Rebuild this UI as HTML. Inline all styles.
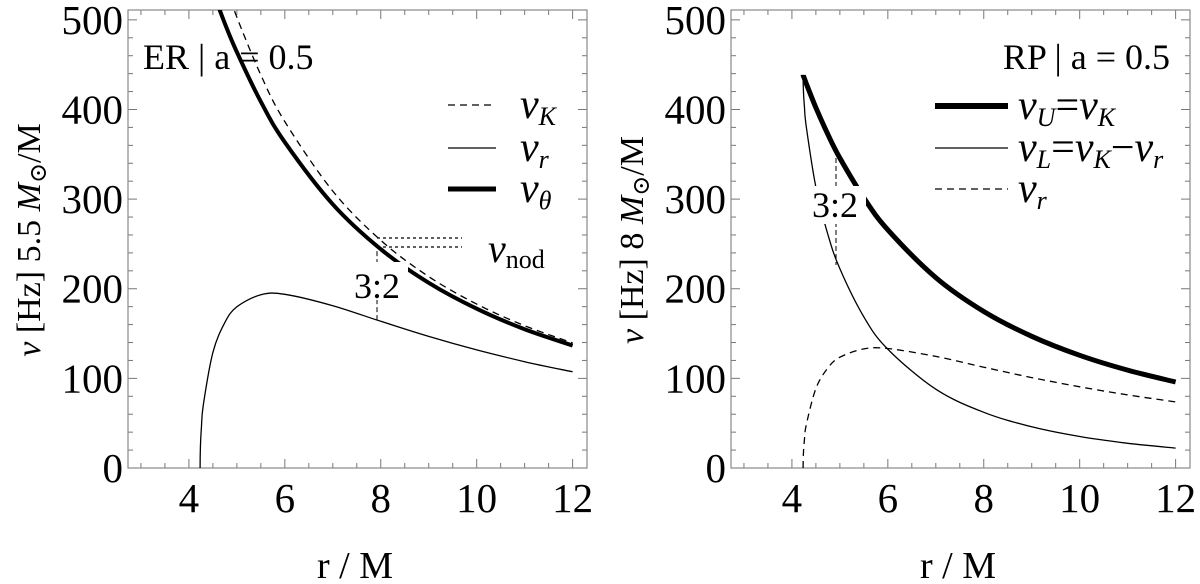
<!DOCTYPE html>
<html><head><meta charset="utf-8">
<style>
html,body{margin:0;padding:0;background:#fff;}
svg{display:block;}
svg text{font-family:"Liberation Serif","DejaVu Serif",serif;}
</style></head>
<body>
<svg id="chart" width="1200" height="584" viewBox="0 0 1200 584" xmlns="http://www.w3.org/2000/svg" font-family="Liberation Serif, serif"></svg>
<script>
// radii (r/M) sampled
const radii = [4.233,4.24,4.26,4.3,4.5,4.75,5,5.5,6,7,8,9,10,11,12];
// left panel: ER, 5.5 Msun
const erNuK     = [637.9,636.5,632.0,623.8,584.7,541.3,502.9,438.4,386.5,308.9,254.0,213.6,182.9,158.8,139.6];
const erNuR     = [0,23.2,45.2,70.3,129.0,162.4,179.8,193.3,193.8,181.1,163.7,146.8,131.8,118.6,107.3];
const erNuTheta = [574.9,573.7,569.5,563.3,531.9,495.8,464.0,408.6,363.5,294.2,244.1,206.6,177.7,154.8,136.6];
// right panel: RP, 8 Msun
const rpNuU = [438.6,437.6,434.6,428.9,402.0,372.2,345.8,301.4,265.8,212.4,174.6,146.9,125.7,109.2,96.0];
const rpNuL = [438.6,421.6,403.5,380.6,313.3,260.5,222.2,168.5,132.5,87.9,62.1,46.0,35.1,27.6,22.2];
const rpNuR = [0,16.0,31.1,48.3,88.7,111.7,123.6,132.9,133.3,124.5,112.5,100.9,90.6,81.6,73.8];
const xTicks = [4,6,8,10,12];
const yTicks = [0,100,200,300,400,500];

const NS='http://www.w3.org/2000/svg';
const svg=document.getElementById('chart');
function el(tag,attrs,parent){const e=document.createElementNS(NS,tag);for(const k in attrs)e.setAttribute(k,attrs[k]);(parent||svg).appendChild(e);return e;}

const XMIN=2.73,XMAX=12.3,YMIN=0,YMAX=511,PW=459,PH=458,TOP=10;
const FF='Liberation Serif, serif';
function mk(left){
  return {x:r=>left+(r-XMIN)/(XMAX-XMIN)*PW, y:v=>TOP+PH-(v-YMIN)/(YMAX-YMIN)*PH, left:left};
}
function panel(left,name){
  const a=mk(left);
  const g=el('g',{});
  
  
  const cp=el('clipPath',{id:'clip-'+name},g);
  el('rect',{x:left,y:TOP,width:PW,height:PH},cp);
  for(let r=3;r<=12.01;r+=0.5){
    const maj=Math.abs(r-Math.round(r/2)*2)<1e-6;const L=maj?9:5;const x=a.x(r);
    el('line',{x1:x,x2:x,y1:TOP+PH,y2:TOP+PH-L,stroke:'#777','stroke-width':1},g);
    el('line',{x1:x,x2:x,y1:TOP,y2:TOP+L,stroke:'#777','stroke-width':1},g);
  }
  for(let v=0;v<=510;v+=20){
    const maj=v%100===0;const L=maj?9:5;const y=a.y(v);
    el('line',{x1:left,x2:left+L,y1:y,y2:y,stroke:'#777','stroke-width':1},g);
    el('line',{x1:left+PW,x2:left+PW-L,y1:y,y2:y,stroke:'#777','stroke-width':1},g);
  }
  el('rect',{x:left,y:TOP,width:PW,height:PH,fill:'none',stroke:'#888','stroke-width':1.2},g);
  xTicks.forEach(t=>{const e=el('text',{x:a.x(t),y:512,'font-size':41,'text-anchor':'middle','font-family':FF},g);e.textContent=t;
    
    });
  yTicks.forEach(t=>{const e=el('text',{x:left-5,y:a.y(t)+14,'font-size':41,'text-anchor':'end','font-family':FF},g);e.textContent=t;
    
    });
  const xt=el('text',{x:left+227,y:578,'font-size':38,'text-anchor':'middle','font-family':FF},g);xt.textContent='r / M';
  
  
  return {a,g};
}
function line(p,vals,w,dash,name){
  const pts=radii.map((r,i)=>[p.a.x(r),p.a.y(vals[i])]);
  let d='M'+pts[0][0].toFixed(1)+','+pts[0][1].toFixed(1);
  for(let i=0;i<pts.length-1;i++){
    const p0=pts[Math.max(0,i-1)],p1=pts[i],p2=pts[i+1],p3=pts[Math.min(pts.length-1,i+2)];
    const c1=[p1[0]+(p2[0]-p0[0])/6,p1[1]+(p2[1]-p0[1])/6];
    const c2=[p2[0]-(p3[0]-p1[0])/6,p2[1]-(p3[1]-p1[1])/6];
    d+=' C'+c1.map(v=>v.toFixed(1)).join(',')+' '+c2.map(v=>v.toFixed(1)).join(',')+' '+p2.map(v=>v.toFixed(1)).join(',');
  }
  const e=el('path',{d:d,fill:'none',stroke:'#000','stroke-width':w,'clip-path':'url(#clip-'+p.name+')'},p.g);
  if(dash)e.setAttribute('stroke-dasharray',dash);
  
  
  return e;
}
function txt(g,x,y,html,size,name,anchor){
  const e=el('text',{x:x,y:y,'font-size':size,'text-anchor':anchor||'start','font-family':FF},g);e.innerHTML=html;
  
  return e;
}

// LEFT
const L=panel(128,'left');L.name='left';
line(L,erNuR,1.3,null,'nu-r-curve');
line(L,erNuK,1.3,'7,5','nu-k-curve');
line(L,erNuTheta,4,null,'nu-theta-curve');
el('line',{x1:377,x2:377,y1:L.a.y(165),y2:L.a.y(245),stroke:'#000','stroke-width':1,'stroke-dasharray':'5,3'},L.g);
el('rect',{x:348,y:262,width:60,height:38,fill:'#fff'},L.g);
txt(L.g,377,298,'3:2',36,'resonance-label','middle');
el('line',{x1:377,x2:462,y1:238,y2:238,stroke:'#000','stroke-width':1.2,'stroke-dasharray':'3,3'},L.g);
el('line',{x1:377,x2:462,y1:247,y2:247,stroke:'#000','stroke-width':1.2,'stroke-dasharray':'3,3'},L.g);
txt(L.g,488,262,'<tspan font-style="italic">ν</tspan><tspan font-size="26" dy="6">nod</tspan>',40,'nu-nod-label');
txt(L.g,143,69,'ER | a = 0.5',36,'panel-title-left');
el('line',{x1:448,x2:496,y1:105,y2:105,stroke:'#000','stroke-width':1.2,'stroke-dasharray':'7,5'},L.g);
el('line',{x1:448,x2:496,y1:148,y2:148,stroke:'#000','stroke-width':1.2},L.g);
el('line',{x1:448,x2:496,y1:189,y2:189,stroke:'#000','stroke-width':5},L.g);
txt(L.g,520,118,'<tspan font-style="italic">ν</tspan><tspan font-size="26" font-style="italic" dy="7">K</tspan>',42,'legend-nu-k');
txt(L.g,520,161,'<tspan font-style="italic">ν</tspan><tspan font-size="26" font-style="italic" dy="7">r</tspan>',42,'legend-nu-r');
txt(L.g,520,202,'<tspan font-style="italic">ν</tspan><tspan font-size="26" font-style="italic" dy="7">θ</tspan>',42,'legend-nu-theta');
txt(svg,0,0,'<tspan font-style="italic">ν</tspan>  [Hz]  5.5 <tspan font-style="italic">M</tspan><tspan font-size="24" dy="6">⊙</tspan><tspan dy="-6">/M</tspan>',34,'y-axis-title-left','middle').setAttribute('transform','translate(40,240) rotate(-90)');

// RIGHT
const R=panel(731,'right');R.name='right';
line(R,rpNuR,1.3,'7,5','nu-r-curve-right');
line(R,rpNuL,1.3,null,'nu-l-curve');
line(R,rpNuU,5,null,'nu-u-curve');
el('line',{x1:836,x2:836,y1:158,y2:265,stroke:'#000','stroke-width':1,'stroke-dasharray':'5,3'},R.g);
el('rect',{x:806,y:186,width:60,height:38,fill:'#fff'},R.g);
txt(R.g,835,217,'3:2',36,'resonance-label-right','middle');
txt(R.g,1170,69,'RP | a = 0.5',36,'panel-title-right','end');
el('line',{x1:935,x2:1008,y1:106,y2:106,stroke:'#000','stroke-width':6},R.g);
el('line',{x1:935,x2:1008,y1:148,y2:148,stroke:'#000','stroke-width':1.2},R.g);
el('line',{x1:935,x2:1008,y1:189,y2:189,stroke:'#000','stroke-width':1.2,'stroke-dasharray':'7,5'},R.g);
txt(R.g,1018,119,'<tspan font-style="italic">ν</tspan><tspan font-size="26" font-style="italic" dy="7">U</tspan><tspan dy="-7">=</tspan><tspan font-style="italic">ν</tspan><tspan font-size="26" font-style="italic" dy="7">K</tspan>',42,'legend-nu-u');
txt(R.g,1018,161,'<tspan font-style="italic">ν</tspan><tspan font-size="26" font-style="italic" dy="7">L</tspan><tspan dy="-7">=</tspan><tspan font-style="italic">ν</tspan><tspan font-size="26" font-style="italic" dy="7">K</tspan><tspan dy="-7">−</tspan><tspan font-style="italic">ν</tspan><tspan font-size="26" font-style="italic" dy="7">r</tspan>',42,'legend-nu-l');
txt(R.g,1018,202,'<tspan font-style="italic">ν</tspan><tspan font-size="26" font-style="italic" dy="7">r</tspan>',42,'legend-nu-r-right');
txt(svg,0,0,'<tspan font-style="italic">ν</tspan>  [Hz]  8 <tspan font-style="italic">M</tspan><tspan font-size="24" dy="6">⊙</tspan><tspan dy="-6">/M</tspan>',34,'y-axis-title-right','middle').setAttribute('transform','translate(643,240) rotate(-90)');
</script>
</body></html>
